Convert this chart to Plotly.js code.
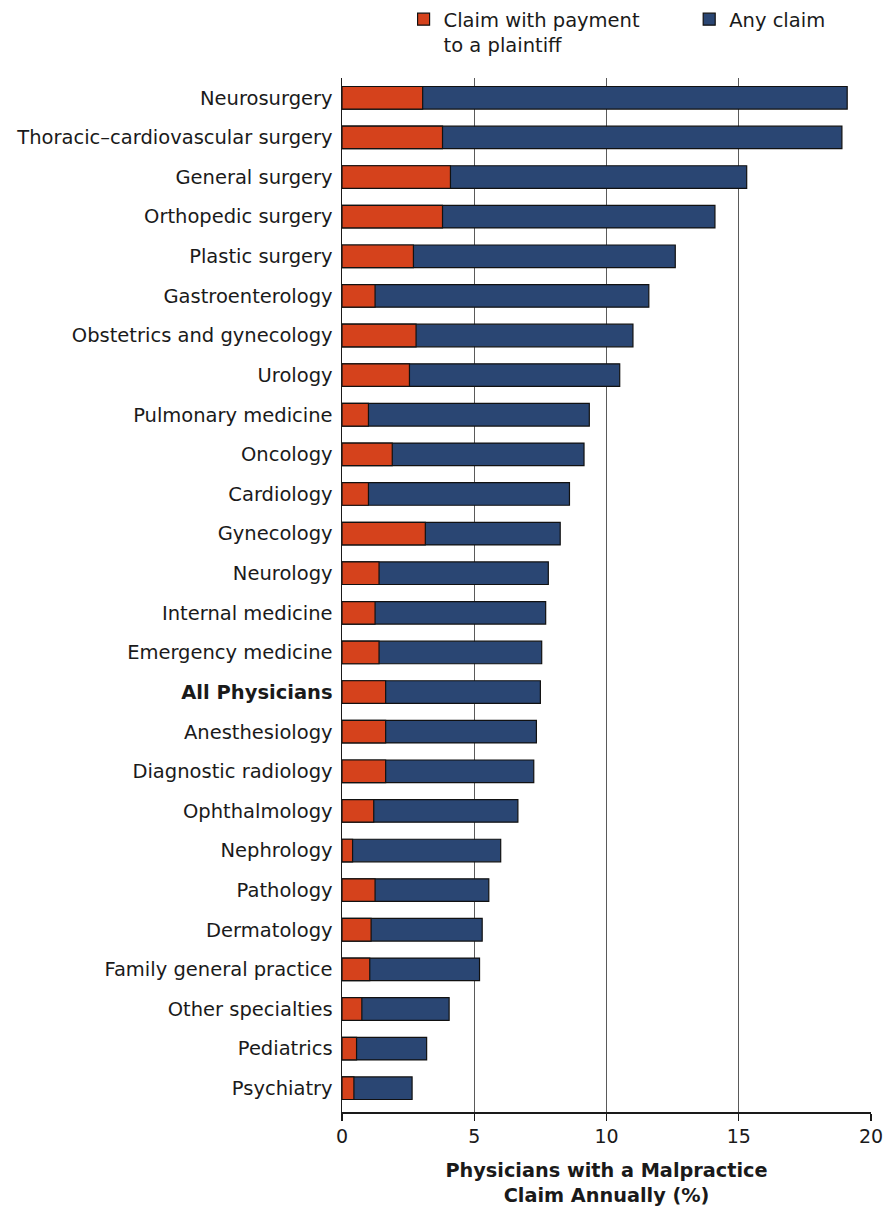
<!DOCTYPE html>
<html>
<head>
<meta charset="utf-8">
<script src="https://cdn.plot.ly/plotly-3.0.1.min.js"></script>
<style>
  html, body { margin: 0; padding: 0; background: #ffffff; }
  #chart { width: 887px; height: 1221px; }
</style>
</head>
<body>
<div id="chart"></div>
<script>
const specialties = [
  "Neurosurgery",
  "Thoracic–cardiovascular surgery",
  "General surgery",
  "Orthopedic surgery",
  "Plastic surgery",
  "Gastroenterology",
  "Obstetrics and gynecology",
  "Urology",
  "Pulmonary medicine",
  "Oncology",
  "Cardiology",
  "Gynecology",
  "Neurology",
  "Internal medicine",
  "Emergency medicine",
  "<b>All Physicians</b>",
  "Anesthesiology",
  "Diagnostic radiology",
  "Ophthalmology",
  "Nephrology",
  "Pathology",
  "Dermatology",
  "Family general practice",
  "Other specialties",
  "Pediatrics",
  "Psychiatry"
];

const anyClaim = [19.1, 18.9, 15.3, 14.1, 12.6, 11.6, 11.0, 10.5, 9.35, 9.15, 8.6, 8.25, 7.8, 7.7, 7.55, 7.5, 7.35, 7.25, 6.65, 6.0, 5.55, 5.3, 5.2, 4.05, 3.2, 2.65];
const paymentClaim = [3.05, 3.8, 4.1, 3.8, 2.7, 1.25, 2.8, 2.55, 1.0, 1.9, 1.0, 3.15, 1.4, 1.25, 1.4, 1.65, 1.65, 1.65, 1.2, 0.4, 1.25, 1.1, 1.05, 0.75, 0.55, 0.45];

const xTicks = [0, 5, 10, 15, 20];

const navy = "#2a4673";
const red = "#d5421c";
const ink = "#1a1a1a";
const FONT = "DejaVu Sans, Verdana, sans-serif";

const traces = [
  {
    type: "bar",
    orientation: "h",
    name: "Any claim",
    legend: "legend2",
    y: specialties,
    x: anyClaim,
    width: 0.57,
    marker: { color: navy, line: { color: "#111111", width: 1.2 } },
    hoverinfo: "x+y"
  },
  {
    type: "bar",
    orientation: "h",
    name: "Claim with payment<br>to a plaintiff",
    legend: "legend",
    y: specialties,
    x: paymentClaim,
    width: 0.57,
    marker: { color: red, line: { color: "#111111", width: 1.2 } },
    hoverinfo: "x+y"
  }
];

const legendBase = {
  orientation: "h",
  xref: "container",
  yref: "container",
  xanchor: "left",
  yanchor: "top",
  valign: "top",
  font: { family: FONT, size: 19.5, color: ink },
  bgcolor: "rgba(0,0,0,0)",
  itemclick: false
};

const layout = {
  width: 887,
  height: 1221,
  paper_bgcolor: "#ffffff",
  plot_bgcolor: "#ffffff",
  barmode: "overlay",
  font: { family: FONT, size: 19, color: ink },
  margin: { l: 342, r: 16, t: 78, b: 109 },
  showlegend: true,
  legend: Object.assign({}, legendBase, { x: 0.455, y: 1.0 }),
  legend2: Object.assign({}, legendBase, { x: 0.777, y: 1.0 }),
  xaxis: {
    range: [0, 20],
    tickvals: xTicks,
    ticktext: xTicks.map(String),
    tickangle: 0,
    ticks: "outside",
    ticklen: 7,
    tickwidth: 1.2,
    tickcolor: ink,
    showline: true,
    linecolor: ink,
    linewidth: 1.5,
    showgrid: true,
    gridcolor: "#5a5a5a",
    gridwidth: 1,
    zeroline: false,
    tickfont: { family: FONT, size: 19, color: ink },
    title: {
      text: "<b>Physicians with a Malpractice<br>Claim Annually (%)</b>",
      font: { family: FONT, size: 19.3, color: ink },
      standoff: 17
    }
  },
  yaxis: {
    type: "category",
    categoryorder: "array",
    categoryarray: specialties,
    range: [25.6, -0.5],
    automargin: false,
    showline: true,
    linecolor: ink,
    linewidth: 1.5,
    ticks: "",
    showgrid: false,
    zeroline: false,
    ticklabelstandoff: 4,
    tickfont: { family: FONT, size: 19.5, color: ink }
  }
};

Plotly.newPlot("chart", traces, layout, { displayModeBar: false, staticPlot: true });
</script>
</body>
</html>
